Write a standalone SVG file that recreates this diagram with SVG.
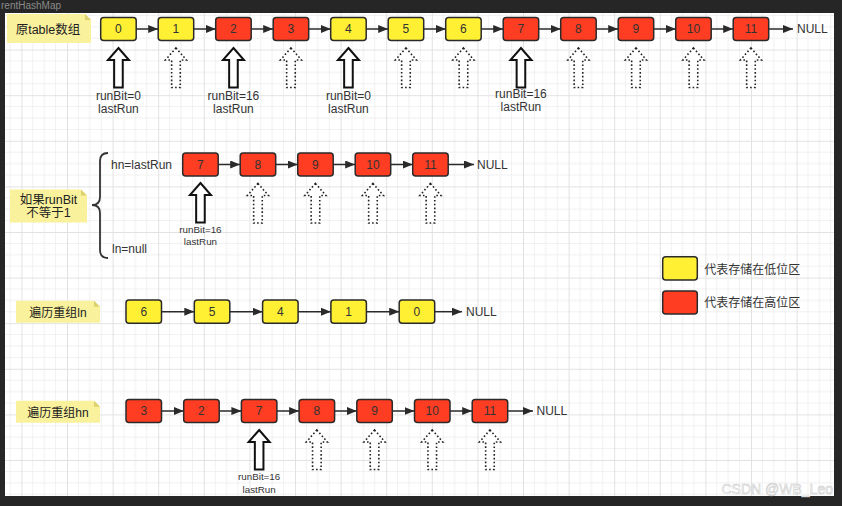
<svg xmlns="http://www.w3.org/2000/svg" xmlns:xlink="http://www.w3.org/1999/xlink" width="842" height="506" viewBox="0 0 842 506">
<defs>
<style>
text{font-family:"Liberation Sans","Noto Sans CJK SC",sans-serif;fill:#333}
.bx{stroke:#2a2a2a;stroke-width:1.5}
.y{fill:#FFF033}
.r{fill:#FF3D22}
.num{font-size:12px;text-anchor:middle}
.lbl{font-size:12px;text-anchor:middle}
.lbs{font-size:9.8px;text-anchor:middle}
.note{fill:#F9F19C}
.fold{fill:#DCD16E}
.ntx{font-size:12.5px;text-anchor:middle;fill:#222}
.con line{stroke:#2a2a2a;stroke-width:1.5;marker-end:url(#ah)}
.solid{fill:#fff;stroke:#111;stroke-width:2}
.dot{fill:#fff;stroke:#222;stroke-width:1.6;stroke-dasharray:1.6 2.2}
.mn{stroke:#f0f0f0;stroke-width:1}
.mj{stroke:#e2e2e2;stroke-width:1}
</style>
<marker id="ah" markerUnits="userSpaceOnUse" markerWidth="10" markerHeight="8" refX="10" refY="4" orient="auto">
<path d="M0,0 L10,4 L0,8 Z" fill="#2a2a2a"/>
</marker>
<path id="up" d="M0,0 L10.5,12 L4.3,12 L4.3,39.5 L-4.3,39.5 L-4.3,12 L-10.5,12 Z"/>
<pattern id="grid" x="21.4" y="4" width="45.6" height="45.6" patternUnits="userSpaceOnUse">
<path class="mn" d="M11.4,0V45.6M22.8,0V45.6M34.2,0V45.6M0,11.4H45.6M0,22.8H45.6M0,34.2H45.6"/>
<path class="mj" d="M0.5,0V45.6M0,0.5H45.6"/>
</pattern>
</defs>
<rect width="842" height="506" fill="#262626"/>
<rect x="5" y="13" width="829" height="483" fill="#fff"/>
<rect x="5" y="13" width="829" height="483" fill="url(#grid)"/>
<text x="1" y="9" style="font-size:10px;fill:#8a8a8a">rentHashMap</text>
<text x="721.5" y="494" style="font-size:14px;fill:#fff;stroke:#c4c4c4;stroke-width:0.5">CSDN @WB_Leo</text>

<g id="connectors" class="con">
<line x1="136.2" y1="29" x2="158.2" y2="29"/>
<line x1="193.7" y1="29" x2="215.7" y2="29"/>
<line x1="251.2" y1="29" x2="273.2" y2="29"/>
<line x1="308.7" y1="29" x2="330.7" y2="29"/>
<line x1="366.2" y1="29" x2="388.2" y2="29"/>
<line x1="423.7" y1="29" x2="445.7" y2="29"/>
<line x1="481.2" y1="29" x2="503.2" y2="29"/>
<line x1="538.7" y1="29" x2="560.7" y2="29"/>
<line x1="596.2" y1="29" x2="618.2" y2="29"/>
<line x1="653.7" y1="29" x2="675.7" y2="29"/>
<line x1="711.2" y1="29" x2="733.2" y2="29"/>
<line x1="768.7" y1="29" x2="793" y2="29"/>
<line x1="218.2" y1="164.5" x2="240.2" y2="164.5"/>
<line x1="275.7" y1="164.5" x2="297.7" y2="164.5"/>
<line x1="333.2" y1="164.5" x2="355.2" y2="164.5"/>
<line x1="390.7" y1="164.5" x2="412.7" y2="164.5"/>
<line x1="448.2" y1="164.5" x2="474" y2="164.5"/>
<line x1="161.5" y1="311.7" x2="194.3" y2="311.7"/>
<line x1="229.8" y1="311.7" x2="262.6" y2="311.7"/>
<line x1="298.1" y1="311.7" x2="330.9" y2="311.7"/>
<line x1="366.4" y1="311.7" x2="399.2" y2="311.7"/>
<line x1="434.7" y1="311.7" x2="462" y2="311.7"/>
<line x1="161.5" y1="411" x2="183.7" y2="411"/>
<line x1="219.2" y1="411" x2="241.4" y2="411"/>
<line x1="276.9" y1="411" x2="299.1" y2="411"/>
<line x1="334.6" y1="411" x2="356.8" y2="411"/>
<line x1="392.3" y1="411" x2="414.5" y2="411"/>
<line x1="450" y1="411" x2="472.2" y2="411"/>
<line x1="507.7" y1="411" x2="533" y2="411"/>
<path d="M108,153 Q100,153 100,161 V197 Q100,205 92,205 Q100,205 100,213 V250 Q100,258 108,258" fill="none" stroke="#333" stroke-width="1.8"/>
</g>

<g id="note-orig">
<path class="note" d="M7,14 H85 L91,20 V43 H7 Z"/><path class="fold" d="M85,14 L91,20 H85 Z"/>
<text class="ntx" x="48" y="33.5">原table数组</text>
</g>
<g id="note-cond">
<path class="note" d="M10,189.5 H81 L87,195.5 V222.5 H10 Z"/><path class="fold" d="M81,189.5 L87,195.5 H81 Z"/>
<text class="ntx" x="48.5" y="203.5">如果runBit</text>
<text class="ntx" x="48.5" y="216.5">不等于1</text>
</g>
<g id="note-ln">
<path class="note" d="M16,300.7 H94 L100,306.7 V322.7 H16 Z"/><path class="fold" d="M94,300.7 L100,306.7 H94 Z"/>
<text class="ntx" x="58" y="316.5" style="font-size:12px">遍历重组ln</text>
</g>
<g id="note-hn">
<path class="note" d="M16,400.7 H94 L100,406.7 V422.7 H16 Z"/><path class="fold" d="M94,400.7 L100,406.7 H94 Z"/>
<text class="ntx" x="58" y="416.5" style="font-size:12px">遍历重组hn</text>
</g>

<g id="row-orig">
<g id="o0"><rect class="bx y" x="100.7" y="17.5" width="35.5" height="23" rx="3"/><text class="num" x="118.45" y="33.3">0</text></g>
<g id="o1"><rect class="bx y" x="158.2" y="17.5" width="35.5" height="23" rx="3"/><text class="num" x="175.95" y="33.3">1</text></g>
<g id="o2"><rect class="bx r" x="215.7" y="17.5" width="35.5" height="23" rx="3"/><text class="num" x="233.45" y="33.3">2</text></g>
<g id="o3"><rect class="bx r" x="273.2" y="17.5" width="35.5" height="23" rx="3"/><text class="num" x="290.95" y="33.3">3</text></g>
<g id="o4"><rect class="bx y" x="330.7" y="17.5" width="35.5" height="23" rx="3"/><text class="num" x="348.45" y="33.3">4</text></g>
<g id="o5"><rect class="bx y" x="388.2" y="17.5" width="35.5" height="23" rx="3"/><text class="num" x="405.95" y="33.3">5</text></g>
<g id="o6"><rect class="bx y" x="445.7" y="17.5" width="35.5" height="23" rx="3"/><text class="num" x="463.45" y="33.3">6</text></g>
<g id="o7"><rect class="bx r" x="503.2" y="17.5" width="35.5" height="23" rx="3"/><text class="num" x="520.95" y="33.3">7</text></g>
<g id="o8"><rect class="bx r" x="560.7" y="17.5" width="35.5" height="23" rx="3"/><text class="num" x="578.45" y="33.3">8</text></g>
<g id="o9"><rect class="bx r" x="618.2" y="17.5" width="35.5" height="23" rx="3"/><text class="num" x="635.95" y="33.3">9</text></g>
<g id="o10"><rect class="bx r" x="675.7" y="17.5" width="35.5" height="23" rx="3"/><text class="num" x="693.45" y="33.3">10</text></g>
<g id="o11"><rect class="bx r" x="733.2" y="17.5" width="35.5" height="23" rx="3"/><text class="num" x="750.95" y="33.3">11</text></g>
<g id="o-null"><text x="797" y="33.3" style="font-size:12px">NULL</text></g>
</g>
<g id="arrows-orig">
<use href="#up" x="118.45" y="48" class="solid"/>
<use href="#up" x="175.95" y="48" class="dot"/>
<use href="#up" x="233.45" y="48" class="solid"/>
<use href="#up" x="290.95" y="48" class="dot"/>
<use href="#up" x="348.45" y="48" class="solid"/>
<use href="#up" x="405.95" y="48" class="dot"/>
<use href="#up" x="463.45" y="48" class="dot"/>
<use href="#up" x="520.95" y="48" class="solid"/>
<use href="#up" x="578.45" y="48" class="dot"/>
<use href="#up" x="635.95" y="48" class="dot"/>
<use href="#up" x="693.45" y="48" class="dot"/>
<use href="#up" x="750.95" y="48" class="dot"/>
<text class="lbl" x="118.45" y="100">runBit=0</text><text class="lbl" x="118.45" y="113">lastRun</text>
<text class="lbl" x="233.45" y="100">runBit=16</text><text class="lbl" x="233.45" y="113">lastRun</text>
<text class="lbl" x="348.45" y="100">runBit=0</text><text class="lbl" x="348.45" y="113">lastRun</text>
<text class="lbl" x="520.95" y="98">runBit=16</text><text class="lbl" x="520.95" y="111">lastRun</text>
</g>

<g id="row-mid">
<text x="111" y="168.5" style="font-size:12px">hn=lastRun</text>
<text x="112" y="252.5" style="font-size:12px">ln=null</text>
<g id="m7"><rect class="bx r" x="182.7" y="153" width="35.5" height="23" rx="3"/><text class="num" x="200.45" y="168.8">7</text></g>
<g id="m8"><rect class="bx r" x="240.2" y="153" width="35.5" height="23" rx="3"/><text class="num" x="257.95" y="168.8">8</text></g>
<g id="m9"><rect class="bx r" x="297.7" y="153" width="35.5" height="23" rx="3"/><text class="num" x="315.45" y="168.8">9</text></g>
<g id="m10"><rect class="bx r" x="355.2" y="153" width="35.5" height="23" rx="3"/><text class="num" x="372.95" y="168.8">10</text></g>
<g id="m11"><rect class="bx r" x="412.7" y="153" width="35.5" height="23" rx="3"/><text class="num" x="430.45" y="168.8">11</text></g>
<g id="m-null"><text x="477" y="168.8" style="font-size:12px">NULL</text></g>
<use href="#up" x="200.45" y="183" class="solid"/>
<use href="#up" x="257.95" y="183.5" class="dot"/>
<use href="#up" x="315.45" y="183.5" class="dot"/>
<use href="#up" x="372.95" y="183.5" class="dot"/>
<use href="#up" x="430.45" y="183.5" class="dot"/>
<text class="lbs" x="200.45" y="232.5">runBit=16</text><text class="lbs" x="200.45" y="244.5">lastRun</text>
</g>

<g id="row-ln">
<g id="l6"><rect class="bx y" x="126" y="300" width="35.5" height="23.3" rx="3"/><text class="num" x="143.75" y="316">6</text></g>
<g id="l5"><rect class="bx y" x="194.3" y="300" width="35.5" height="23.3" rx="3"/><text class="num" x="212.05" y="316">5</text></g>
<g id="l4"><rect class="bx y" x="262.6" y="300" width="35.5" height="23.3" rx="3"/><text class="num" x="280.35" y="316">4</text></g>
<g id="l1"><rect class="bx y" x="330.9" y="300" width="35.5" height="23.3" rx="3"/><text class="num" x="348.65" y="316">1</text></g>
<g id="l0"><rect class="bx y" x="399.2" y="300" width="35.5" height="23.3" rx="3"/><text class="num" x="416.95" y="316">0</text></g>
<g id="l-null"><text x="466" y="316" style="font-size:12px">NULL</text></g>
</g>

<g id="row-hn">
<g id="h3"><rect class="bx r" x="126" y="399.5" width="35.5" height="23" rx="3"/><text class="num" x="143.75" y="415.3">3</text></g>
<g id="h2"><rect class="bx r" x="183.7" y="399.5" width="35.5" height="23" rx="3"/><text class="num" x="201.45" y="415.3">2</text></g>
<g id="h7"><rect class="bx r" x="241.4" y="399.5" width="35.5" height="23" rx="3"/><text class="num" x="259.15" y="415.3">7</text></g>
<g id="h8"><rect class="bx r" x="299.1" y="399.5" width="35.5" height="23" rx="3"/><text class="num" x="316.85" y="415.3">8</text></g>
<g id="h9"><rect class="bx r" x="356.8" y="399.5" width="35.5" height="23" rx="3"/><text class="num" x="374.55" y="415.3">9</text></g>
<g id="h10"><rect class="bx r" x="414.5" y="399.5" width="35.5" height="23" rx="3"/><text class="num" x="432.25" y="415.3">10</text></g>
<g id="h11"><rect class="bx r" x="472.2" y="399.5" width="35.5" height="23" rx="3"/><text class="num" x="489.95" y="415.3">11</text></g>
<g id="h-null"><text x="536.5" y="415.3" style="font-size:12px">NULL</text></g>
<use href="#up" x="259.15" y="430" class="solid"/>
<use href="#up" x="316.85" y="430" class="dot"/>
<use href="#up" x="374.55" y="430" class="dot"/>
<use href="#up" x="432.25" y="430" class="dot"/>
<use href="#up" x="489.95" y="430" class="dot"/>
<text class="lbs" x="259.15" y="480">runBit=16</text><text class="lbs" x="259.15" y="492.5">lastRun</text>
</g>

<g id="legend">
<g id="leg-low"><rect class="bx y" x="662.7" y="256.7" width="34.6" height="23.3" rx="3"/><text x="704.3" y="273.5" style="font-size:12px">代表存储在低位区</text></g>
<g id="leg-high"><rect class="bx r" x="662.7" y="291" width="34.6" height="23" rx="3"/><text x="704.3" y="307" style="font-size:12px">代表存储在高位区</text></g>
</g>
</svg>
